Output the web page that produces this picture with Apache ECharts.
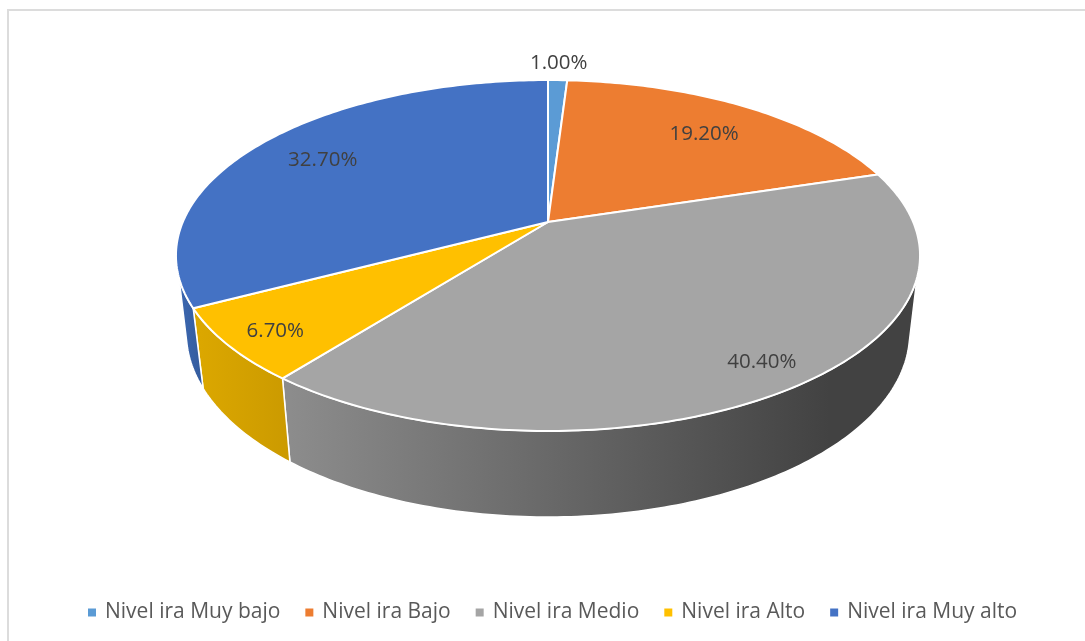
<!DOCTYPE html>
<html>
<head>
<meta charset="utf-8">
<title>Nivel de ira</title>
<script src="https://cdn.jsdelivr.net/npm/echarts@6/dist/echarts.min.js"></script>
<style>
  html, body { margin: 0; padding: 0; background: #fff; }
  #chart { width: 1085px; height: 641px; }
</style>
</head>
<body>
<div id="chart"></div>
<script>
// datos
var categories = ['Nivel ira Muy bajo', 'Nivel ira Bajo', 'Nivel ira Medio', 'Nivel ira Alto', 'Nivel ira Muy alto'];
var percents = [1.0, 19.2, 40.4, 6.7, 32.7];
var labels = ['1.00%', '19.20%', '40.40%', '6.70%', '32.70%'];

// estilos
var colors = ['#5B9BD5', '#ED7D31', '#A5A5A5', '#FFC000', '#4472C4'];
var wallStops = [
  ['#44749F', '#44749F'],
  ['#B05D24', '#B05D24'],
  ['#8C8C8C', '#424242'],
  ['#DBA700', '#CB9A00'],
  ['#3C68B2', '#335A9A']
];
var wallRange = [[0, 1085], [0, 1085], [290, 830], [200, 290], [178, 205]];
var labelRadius = [1.13, 0.75, 0.87, 0.88, 0.75];
var labelNudge = [[0, -2], [4, 2], [5, 0], [4, 2], [-7, -1]];

// la tapa es un circulo visto en perspectiva, por eso el centro no cae en el medio
var CX = 548, K = 0.1909;
var TOP = { r: 365.2, a: -126.7, b: 222 };
var BOTTOM = { r: 355, a: -120.3, b: 298 };
// tramo visible de la pared, entre las tangentes de ambos lados
var TOP_VISIBLE = [30.04, 69.96];
var BOTTOM_VISIBLE = [29.05, 70.95];

function project(face, pct, rho) {
  var t = pct / 100 * 2 * Math.PI;
  var X = Math.sin(t) * rho, Y = Math.cos(t) * rho;
  var w = 1 + K * Y;
  return [CX + face.r * X / w, (face.a * Y + face.b) / w];
}

function arc(face, from, to) {
  var pts = [];
  var n = Math.max(2, Math.ceil((to - from) * 4));
  for (var i = 0; i <= n; i++) {
    pts.push(project(face, from + (to - from) * i / n, 1));
  }
  return pts;
}

function wallPoints(from, to) {
  var t0 = Math.max(from, TOP_VISIBLE[0]), t1 = Math.min(to, TOP_VISIBLE[1]);
  var b0 = Math.max(from, BOTTOM_VISIBLE[0]), b1 = Math.min(to, BOTTOM_VISIBLE[1]);
  if (t0 >= t1) return null; // queda detras de la tapa
  return arc(TOP, t0, t1).concat(arc(BOTTOM, b0, b1).reverse());
}

function makeRenderItem(idx) {
  return function (params, api) {
    var from = api.value(0), to = from + api.value(1);
    var face = [[CX, TOP.b]].concat(arc(TOP, from, to));
    var p = project(TOP, (from + to) / 2, labelRadius[idx]);
    var children = [];
    var wall = wallPoints(from, to);
    if (wall) {
      children.push({
        type: 'polygon', z2: 1,
        shape: { points: wall },
        style: {
          fill: {
            type: 'linear', global: true,
            x: wallRange[idx][0], y: 0, x2: wallRange[idx][1], y2: 0,
            colorStops: [
              { offset: 0, color: wallStops[idx][0] },
              { offset: 1, color: wallStops[idx][1] }
            ]
          },
          stroke: '#fff', lineWidth: 1.5, lineJoin: 'round'
        }
      });
    }
    children.push({
      type: 'polygon', z2: 2,
      shape: { points: face },
      style: { fill: colors[idx], stroke: '#fff', lineWidth: 2, lineJoin: 'round' }
    });
    children.push({
      type: 'text', z2: 3,
      x: p[0] + labelNudge[idx][0], y: p[1] + labelNudge[idx][1],
      style: {
        text: labels[idx],
        fill: '#404040',
        font: '20.5px "Open Sans"',
        align: 'center',
        verticalAlign: 'middle'
      }
    });
    return { type: 'group', children: children };
  };
}

var series = [];
var acum = 0;
categories.forEach(function (name, i) {
  series.push({
    type: 'custom',
    name: name,
    coordinateSystem: 'none',
    animation: false,
    silent: true,
    itemStyle: { color: colors[i] },
    renderItem: makeRenderItem(i),
    data: [[acum, percents[i]]]
  });
  acum += percents[i];
});

var chart = echarts.init(document.getElementById('chart'), null, { renderer: 'canvas' });
chart.setOption({
  backgroundColor: '#fff',
  animation: false,
  legend: {
    data: categories,
    left: 83,
    top: 597,
    icon: 'rect',
    itemWidth: 8,
    itemHeight: 8,
    itemGap: 25,
    selectedMode: false,
    textStyle: { color: '#595959', fontSize: 21, fontFamily: '"Open Sans"', padding: [0, 0, 0, 4] }
  },
  graphic: [
    { type: 'rect', silent: true, shape: { x: 7, y: 9, width: 1078, height: 2 }, style: { fill: '#DCDCDC' } },
    { type: 'rect', silent: true, shape: { x: 7, y: 9, width: 2, height: 632 }, style: { fill: '#DCDCDC' } }
  ],
  series: series
});
</script>
</body>
</html>
